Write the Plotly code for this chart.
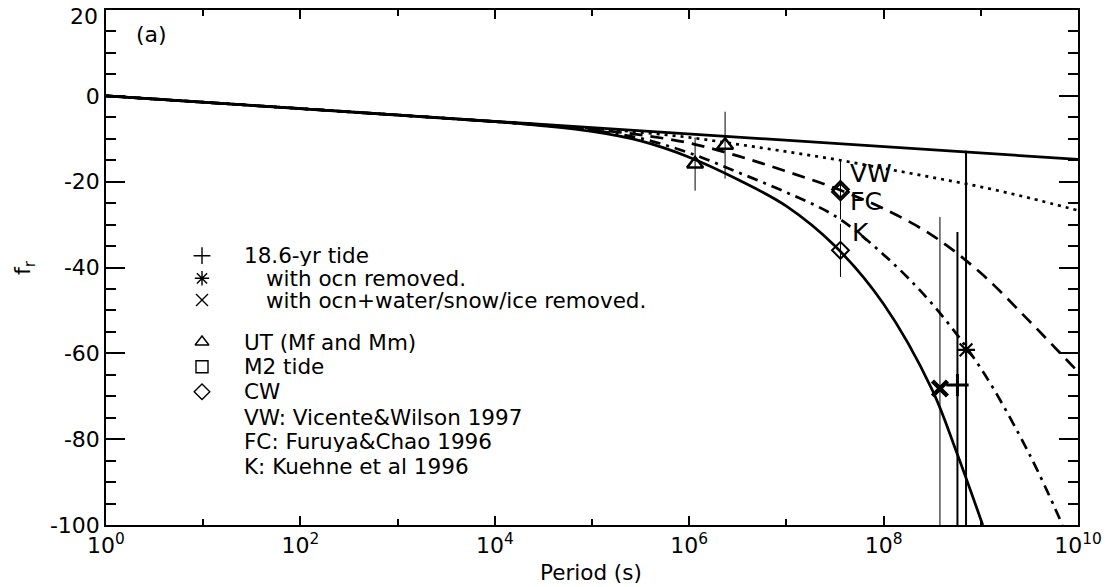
import plotly.graph_objects as go

# ---------------- data ----------------
# curves: exponent of period (log10 s) and f_r
exp_straight = [0, 10]
fr_straight = [0, -14.8]

exp_dotted = [0, 4, 4.5, 5, 5.5, 6, 6.5, 7, 7.5, 8, 8.5, 9, 9.5, 10]
fr_dotted = [0, -6.0, -6.8, -7.6, -8.5, -9.7, -11.3, -13.0, -14.8, -16.9, -19.0, -21.2, -23.8, -26.7]

exp_dashed = [0, 4, 4.5, 5, 5.5, 6, 6.5, 7, 7.5, 8, 8.5, 9, 9.5, 10]
fr_dashed = [0, -6.0, -6.8, -7.8, -9.1, -11.0, -14.0, -17.6, -21.5, -26.3, -32.5, -41.3, -52.5, -64.3]

exp_dashdot = [0, 4, 4.5, 5, 5.5, 6, 6.5, 7, 7.5, 8, 8.5, 9, 9.5, 9.84]
fr_dashdot = [0, -6.0, -6.9, -8.0, -9.9, -13.3, -17.8, -22.5, -28.0, -37.0, -48.5, -63.5, -83.5, -100]

exp_solid = [0, 4, 4.5, 5, 5.5, 6, 6.5, 7, 7.5, 8, 8.5, 8.75, 9.02]
fr_solid = [0, -6.0, -7.0, -8.3, -10.5, -14.3, -19.5, -25.7, -35.0, -48.5, -68.5, -83.0, -100]

# measurements
ut_period = [1.15e6, 2.34e6]
ut_fr = [-15.9, -11.5]
ut_err = [6.2, 7.8]

cw_period = [3.6e7, 3.6e7, 3.6e7]
cw_fr = [-21.8, -22.4, -36.0]
cw_err = [7.0, 3.0, 6.2]
cw_labels = ["VW", "FC", "K"]

tide_period = [5.75e8]
tide_fr = [-67.4]
tide_err = [35.7]

ocn_period = [7.05e8]
ocn_fr = [-59.2]
ocn_err = [46.4]

ocnw_period = [3.8e8]
ocnw_fr = [-68.2]
ocnw_err = [40.0]

x_tickvals = [1e0, 1e2, 1e4, 1e6, 1e8, 1e10]
x_ticktext = ["10<sup>0</sup>", "10<sup>2</sup>", "10<sup>4</sup>", "10<sup>6</sup>",
              "10<sup>8</sup>", "10<sup>10</sup>"]
x_minor = [1e1, 1e3, 1e5, 1e7, 1e9]
y_tickvals = [-100, -80, -60, -40, -20, 0, 20]
# the top label ("20") is drawn separately, nudged down so it stays inside the page
y_ticktext = ["-100", "-80", "-60", "-40", "-20", "0", ""]
y_top_label = "20"

legend_rows = ["18.6-yr tide", "with ocn removed.", "with ocn+water/snow/ice removed.",
               "UT (Mf and Mm)", "M2 tide", "CW", "VW: Vicente&Wilson 1997",
               "FC: Furuya&Chao 1996", "K: Kuehne et al 1996"]

# ---------------- layout constants ----------------
W, H = 1107, 587
ML, MR, MT, MB = 106, 29, 10, 62
PW, PH = W - ML - MR, H - MT - MB
FONT = "DejaVu Sans"
BLACK = "black"


def xp(px):
    return (px - ML) / PW


def yp(py):
    return 1 - (py - MT) / PH


def px_to_data_x(px):
    return 10 ** ((px - ML) / PW * 10)


def py_to_data_y(py):
    return 20 - (py - MT) / PH * 120


def per(exps):
    return [10 ** e for e in exps]


fig = go.Figure()

curve_styles = [
    (exp_straight, fr_straight, "solid"),
    (exp_dotted, fr_dotted, "3px,5px"),
    (exp_dashed, fr_dashed, "13px,8px"),
    (exp_dashdot, fr_dashdot, "11px,6px,3px,6px"),
    (exp_solid, fr_solid, "solid"),
]
for ex, fr, dash in curve_styles:
    fig.add_trace(go.Scatter(x=per(ex), y=fr, mode="lines",
                             line=dict(color=BLACK, width=2.7, dash=dash, shape="spline"),
                             showlegend=False, hoverinfo="skip"))


def add_points(x, y, err, symbol, size, lw, ethick):
    fig.add_trace(go.Scatter(
        x=x, y=y, mode="markers",
        marker=dict(symbol=symbol, size=size, color=BLACK, line=dict(color=BLACK, width=lw)),
        error_y=dict(type="data", array=err, visible=True, thickness=ethick, width=0, color=BLACK),
        showlegend=False))


add_points(ut_period, ut_fr, ut_err, "triangle-up-open", 14, 2.5, 1)
add_points(cw_period, cw_fr, cw_err, "diamond-open", 13, 2, 1)
add_points(ocnw_period, ocnw_fr, ocnw_err, "x-thin-open", 15, 4.5, 1)
add_points(tide_period, tide_fr, tide_err, "cross-thin-open", 16, 3, 2)
add_points(ocn_period, ocn_fr, ocn_err, "asterisk-open", 15, 2.2, 2)

# legend glyphs (positions in pixels of the figure)
glyph_px = 202
glyph_py = [255.7, 278.3, 300, 342, 366.7, 391.7]
glyph_symbols = ["cross-thin-open", "asterisk-open", "x-thin-open",
                 "triangle-up-open", "square-open", "diamond-open"]
fig.add_trace(go.Scatter(
    x=[px_to_data_x(glyph_px)] * len(glyph_py), y=[py_to_data_y(v) for v in glyph_py],
    mode="markers",
    marker=dict(symbol=glyph_symbols, size=12, color=BLACK, line=dict(color=BLACK, width=1.4)),
    showlegend=False, hoverinfo="skip", cliponaxis=False))

annotations = []
text_px = [243, 265, 265, 243, 243, 243, 243, 243, 243]
text_py = [255.7, 278.3, 300, 342, 366.7, 391.7, 417, 441.5, 466]
for t, tx, ty in zip(legend_rows, text_px, text_py):
    annotations.append(dict(text=t, x=xp(tx), y=yp(ty), xref="paper", yref="paper",
                            xanchor="left", yanchor="middle", showarrow=False,
                            height=21, borderpad=0,
                            font=dict(family=FONT, size=21.5, color=BLACK)))

lab_pos = [(849, 173), (849, 201), (851, 232)]
for t, (tx, ty) in zip(cw_labels, lab_pos):
    annotations.append(dict(text=t, x=xp(tx), y=yp(ty), xref="paper", yref="paper",
                            xanchor="left", yanchor="middle", showarrow=False,
                            height=24, borderpad=0,
                            font=dict(family=FONT, size=25, color=BLACK)))

annotations.append(dict(text="(a)", x=xp(134), y=yp(35), xref="paper", yref="paper",
                        xanchor="left", yanchor="middle", showarrow=False,
                        font=dict(family=FONT, size=22, color=BLACK)))
annotations.append(dict(text=y_top_label, x=xp(100), y=yp(17), xref="paper", yref="paper",
                        xanchor="right", yanchor="middle", showarrow=False,
                        font=dict(family=FONT, size=22, color=BLACK)))
annotations.append(dict(text="f<sub>r</sub>", x=xp(24), y=yp(268), xref="paper", yref="paper",
                        xanchor="center", yanchor="middle", showarrow=False, textangle=-90,
                        font=dict(family=FONT, size=22, color=BLACK)))
annotations.append(dict(text="Period (s)", x=xp(591), y=yp(572), xref="paper", yref="paper",
                        xanchor="center", yanchor="middle", showarrow=False,
                        font=dict(family=FONT, size=21.5, color=BLACK)))

fig.update_layout(
    width=W, height=H,
    margin=dict(l=ML, r=MR, t=MT, b=MB, pad=0, autoexpand=False),
    paper_bgcolor="white", plot_bgcolor="white",
    font=dict(family=FONT, size=22, color=BLACK),
    showlegend=False,
    annotations=annotations,
    xaxis=dict(type="log", range=[0, 10], tickvals=x_tickvals, ticktext=x_ticktext,
               ticks="inside", ticklen=9, tickwidth=1.5, tickcolor=BLACK,
               showline=True, linecolor=BLACK, linewidth=1.5, mirror="ticks",
               showgrid=False, zeroline=False, ticklabeloverflow="allow", automargin=False,
               tickfont=dict(family=FONT, size=22, color=BLACK),
               minor=dict(tickvals=x_minor, ticks="inside", ticklen=6, tickwidth=1.5,
                          tickcolor=BLACK, showgrid=False)),
    yaxis=dict(range=[-100, 20], tickvals=y_tickvals, ticktext=y_ticktext,
               ticks="inside", ticklen=19, tickwidth=1.5, tickcolor=BLACK,
               showline=True, linecolor=BLACK, linewidth=1.5, mirror="ticks",
               showgrid=False, zeroline=False, ticklabeloverflow="allow", automargin=False,
               tickfont=dict(family=FONT, size=22, color=BLACK),
               minor=dict(dtick=5, ticks="inside", ticklen=10, tickwidth=1.5,
                          tickcolor=BLACK, showgrid=False)),
)

fig.write_html("out.html")
